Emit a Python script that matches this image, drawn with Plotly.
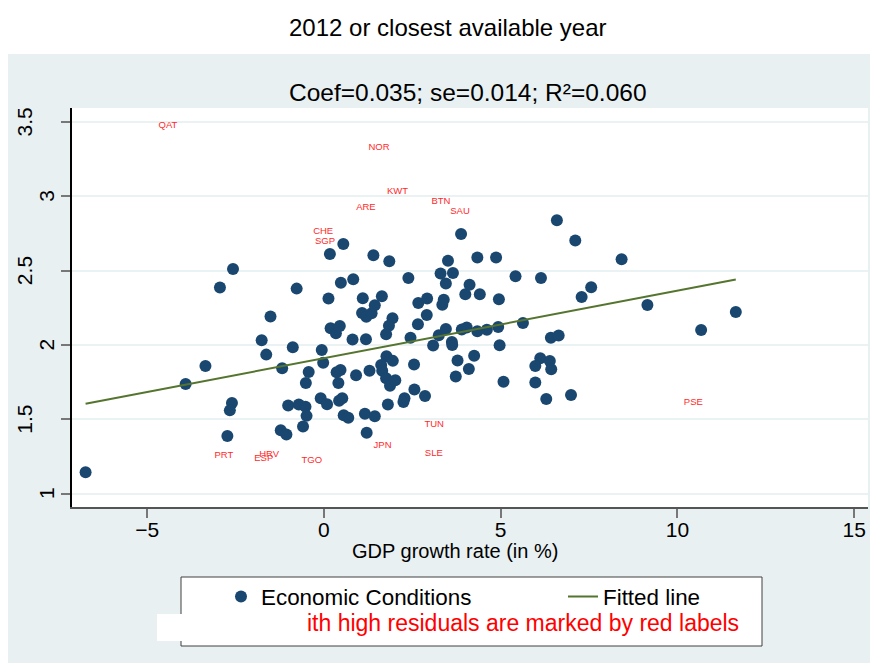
import plotly.graph_objects as go

# ---------------- data ----------------
gdp_growth = [
    -6.74, -3.91, -3.35, -2.94, -2.57, -1.76, -1.63, -1.51, -1.18, -0.88,
    -0.77, -0.51, -0.43, -0.06, -0.02, 0.13, 0.17, 0.19, 0.34, 0.45,
    0.36, 0.47, 0.41, 0.48, 0.55, 0.83, 0.81, 0.91, 1.10, 1.08,
    1.20, 1.35, 1.19, 1.29, 1.40, 1.44, 1.64, 1.85, 1.94, 1.84,
    1.76, 1.77, 1.95, 1.62, 1.65, 1.76, 1.87, 2.02, 2.39, 2.45,
    2.55, 2.67, 2.66, 2.92, 2.91, 3.09, 3.25, 3.30, 3.39, 3.35,
    3.45, 3.45, 3.51, 3.65, 3.62, 3.63, 3.88, 3.90, 4.04, 4.00,
    4.12, 4.34, 4.41, 4.34, 4.61, 4.87, 4.95, 4.93, 4.97, 5.42,
    5.63, 6.14, 6.42, 6.64, 6.59, 7.11, 7.29, 7.56, 8.42, 9.15,
    10.67, 11.65, 4.25, 3.78, 4.10, 3.73, 5.08, 6.12, 5.98, 6.39,
    6.43, 5.98, 6.29, 6.99, 2.56, 2.28, 2.25, 2.86, 1.81, 1.16,
    1.44, 1.21, 0.56, 0.69, 0.43, 0.52, -0.09, 0.09, -1.01, -0.71,
    -0.52, -0.49, -0.59, -1.22, -1.06, -2.60, -2.66, -2.73,
]
econ_conditions = [
    1.143, 1.737, 1.858, 2.386, 2.511, 2.031, 1.935, 2.191, 1.843, 1.984,
    2.379, 1.744, 1.818, 1.966, 1.881, 2.312, 2.612, 2.112, 2.078, 2.127,
    1.816, 1.831, 1.744, 2.419, 2.679, 2.442, 2.036, 1.796, 2.314, 2.215,
    2.189, 2.213, 2.038, 1.827, 2.603, 2.267, 2.327, 2.563, 2.179, 2.129,
    2.072, 1.924, 1.893, 1.866, 1.826, 1.776, 1.725, 1.762, 2.450, 2.048,
    1.868, 2.282, 2.139, 2.312, 2.201, 1.996, 2.066, 2.480, 2.304, 2.270,
    2.413, 2.107, 2.567, 2.484, 2.020, 1.999, 2.746, 2.104, 2.117, 2.341,
    2.405, 2.588, 2.341, 2.092, 2.103, 2.588, 2.307, 2.121, 1.998, 2.462,
    2.148, 2.450, 2.049, 2.063, 2.839, 2.702, 2.323, 2.388, 2.576, 2.269,
    2.101, 2.222, 1.928, 1.895, 1.838, 1.788, 1.752, 1.910, 1.858, 1.892,
    1.836, 1.747, 1.636, 1.663, 1.700, 1.641, 1.616, 1.657, 1.599, 1.538,
    1.520, 1.410, 1.527, 1.510, 1.624, 1.642, 1.641, 1.601, 1.593, 1.599,
    1.584, 1.523, 1.451, 1.426, 1.397, 1.609, 1.560, 1.387,
]

# countries with high residuals (red labels)
res_codes = ["QAT", "NOR", "KWT", "ARE", "BTN", "SAU", "CHE", "SGP",
             "PSE", "PRT", "HRV", "ESP", "TGO", "JPN", "TUN", "SLE"]
res_x = [-4.41, 1.56, 2.08, 1.19, 3.31, 3.85, -0.02, 0.03,
         10.45, -2.83, -1.55, -1.70, -0.34, 1.66, 3.12, 3.11]
res_y = [3.473, 3.325, 3.029, 2.921, 2.962, 2.894, 2.760, 2.697,
         1.609, 1.258, 1.264, 1.237, 1.224, 1.325, 1.461, 1.266]

# fitted line end points
fit_x = [-6.74, 11.65]
fit_y = [1.605, 2.44]

x_ticks = [-5, 0, 5, 10, 15]
y_ticks = [1, 1.5, 2, 2.5, 3, 3.5]
y_tick_labels = ["1", "1.5", "2", "2.5", "3", "3.5"]

title_text = "2012 or closest available year"
subtitle_text = "Coef=0.035; se=0.014; R\u00b2=0.060"
x_title = "GDP growth rate (in %)"
note_text = "ith high residuals are marked by red labels"

# ---------------- layout helpers ----------------
# the page body adds an 8px margin, so the figure is 8px smaller and
# all reference-pixel positions are shifted by 8px
OFF = 8
W, H = 870, 655
L, R, T, B = 64, 10, 100, 156
PW = W - L - R
PH = H - T - B


def px(xr):
    return (xr - OFF - L) / PW


def py(yr):
    return (H - B - (yr - OFF)) / PH


FONT = "Arial, 'Liberation Sans', sans-serif"
BG = "#E8F0F2"
NAVY = "#1A476F"
GREEN = "#55752F"

fig = go.Figure()
fig.add_trace(go.Scatter(
    x=gdp_growth, y=econ_conditions, mode="markers",
    name="Economic Conditions",
    marker=dict(color=NAVY, size=12, line=dict(width=0)),
))
fig.add_trace(go.Scatter(
    x=fit_x, y=fit_y, mode="lines", name="Fitted line",
    line=dict(color=GREEN, width=2),
))
fig.add_trace(go.Scatter(
    x=res_x, y=res_y, mode="text", text=res_codes, showlegend=False,
    textposition="middle center",
    textfont=dict(color="#FF2A2A", size=9.5, family=FONT),
    cliponaxis=False,
))

shapes = [
    # white strip at top (outside the graph region)
    dict(type="rect", xref="paper", yref="paper", x0=px(0), x1=px(900),
         y0=py(54), y1=py(0), fillcolor="white", line=dict(width=0), layer="below"),
    # legend frame
    dict(type="rect", xref="paper", yref="paper", x0=px(181), x1=px(762),
         y0=py(646), y1=py(577), fillcolor="white",
         line=dict(color="#404040", width=1), layer="below"),
    # white box behind the note
    dict(type="rect", xref="paper", yref="paper", x0=px(157), x1=px(745),
         y0=py(641), y1=py(614), fillcolor="white", line=dict(width=0), layer="below"),
]

annotations = [
    dict(text=title_text, xref="paper", yref="paper", x=px(448), y=py(27),
         xanchor="center", yanchor="middle", showarrow=False,
         font=dict(size=24, color="black", family=FONT)),
    dict(text=subtitle_text, xref="paper", yref="paper", x=px(468), y=py(93),
         xanchor="center", yanchor="middle", showarrow=False,
         font=dict(size=24.5, color="black", family=FONT)),
    dict(text=x_title, xref="paper", yref="paper", x=px(455), y=py(551),
         xanchor="center", yanchor="middle", showarrow=False,
         font=dict(size=20, color="black", family=FONT)),
    dict(text=note_text, xref="paper", yref="paper", x=px(741), y=py(623),
         xanchor="right", yanchor="middle", showarrow=False,
         font=dict(size=23, color="#FF0000", family=FONT)),
]

# rotated y tick labels (Stata offsets longer labels further from the axis)
for val, lab in zip(y_ticks, y_tick_labels):
    annotations.append(dict(
        text=lab, xref="paper", yref="y", x=px(46.5 - 11 * (len(lab) - 1)), y=val,
        xanchor="center", yanchor="middle", textangle=-90, showarrow=False,
        font=dict(size=21, color="black", family=FONT),
    ))

fig.update_layout(
    width=W, height=H,
    margin=dict(l=L, r=R, t=T, b=B, autoexpand=False),
    paper_bgcolor=BG, plot_bgcolor="white",
    font=dict(family=FONT, color="black"),
    shapes=shapes, annotations=annotations,
    showlegend=True,
    legend=dict(
        orientation="h", xref="paper", yref="paper",
        x=px(221), y=py(597), xanchor="left", yanchor="middle",
        bgcolor="rgba(0,0,0,0)", borderwidth=0,
        font=dict(size=22.4, color="black", family=FONT),
        entrywidth=297, entrywidthmode="pixels",
    ),
    xaxis=dict(
        range=[-7.124, 15.389], tickmode="array", tickvals=x_ticks,
        ticks="outside", ticklen=9, tickwidth=1.5, tickcolor="#777777",
        showgrid=False, zeroline=False,
        showline=True, linecolor="#555555", linewidth=1.5,
        tickfont=dict(size=21, color="black", family=FONT),
        ticklabelstandoff=-6,
    ),
    yaxis=dict(
        range=[0.910, 3.594], tickmode="array", tickvals=y_ticks,
        showticklabels=False,
        ticks="outside", ticklen=9, tickwidth=1.5, tickcolor="#777777",
        showgrid=True, gridcolor="#EAF2F3", gridwidth=2, zeroline=False,
        showline=True, linecolor="black", linewidth=1.5,
    ),
)

fig.write_html("out.html")
